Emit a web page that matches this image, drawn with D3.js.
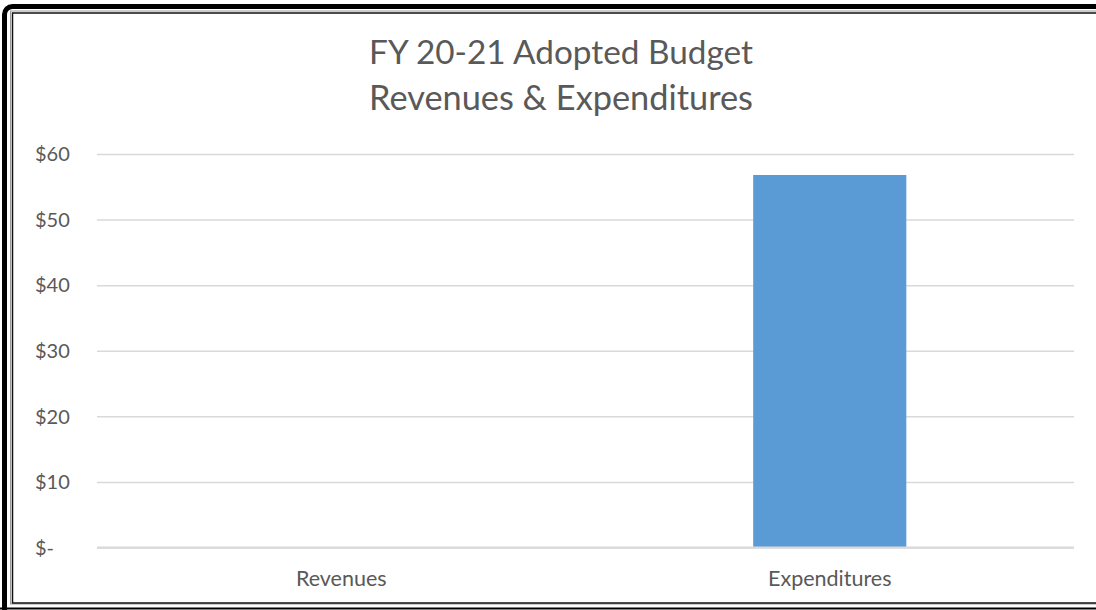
<!DOCTYPE html>
<html>
<head>
<meta charset="utf-8">
<script src="https://cdn.jsdelivr.net/npm/d3@7"></script>
<style>
  html, body { margin: 0; padding: 0; background: #fff; }
  svg { display: block; }
  text { font-family: Lato, "Open Sans", sans-serif; fill: #595959; }
</style>
</head>
<body>
<svg id="chart" width="1096" height="610"></svg>
<script>
// Budget totals, in millions of dollars
const categories = ["Revenues", "Expenditures"];
const amounts = [0, 56.8];
const tickValues = [0, 10, 20, 30, 40, 50, 60];
const tickLabels = ["$-", "$10", "$20", "$30", "$40", "$50", "$60"];
const titleLines = ["FY 20-21 Adopted Budget", "Revenues & Expenditures"];

const W = 1096, H = 610;
const svg = d3.select("#chart");

// Frame: heavy black outline with a double inner rule
svg.append("rect")
  .attr("x", 4.5).attr("y", 6.5)
  .attr("width", W + 20).attr("height", H + 20)
  .attr("rx", 8)
  .attr("fill", "none").attr("stroke", "#000").attr("stroke-width", 5);
svg.append("rect")
  .attr("x", 10.5).attr("y", 11)
  .attr("width", W + 20).attr("height", 593)
  .attr("fill", "none").attr("stroke", "#9a9a9a").attr("stroke-width", 1);
svg.append("rect")
  .attr("x", 12.5).attr("y", 13)
  .attr("width", W + 20).attr("height", 590)
  .attr("fill", "none").attr("stroke", "#111").attr("stroke-width", 1.5);
svg.append("line")
  .attr("x1", 0).attr("x2", W).attr("y1", 608.5).attr("y2", 608.5)
  .attr("stroke", "#000").attr("stroke-width", 2);

const margin = { left: 97, right: 22, top: 154, bottom: 62.5 };
const plotW = W - margin.left - margin.right;

const x = d3.scaleBand()
  .domain(categories)
  .range([margin.left, W - margin.right])
  .padding(0);

const y = d3.scaleLinear()
  .domain([0, 60])
  .range([H - margin.bottom, margin.top]);

// Horizontal gridlines
const grid = svg.append("g")
  .attr("transform", `translate(${margin.left},0)`)
  .call(d3.axisLeft(y).tickValues(tickValues).tickSize(-plotW).tickFormat(""));
grid.select(".domain").remove();
grid.selectAll(".tick line").attr("stroke", "#d9d9d9").attr("stroke-width", 1.5);

// Y-axis labels ($ left aligned, accounting style)
const ylab = svg.append("g").attr("transform", "translate(35,0)")
  .call(d3.axisLeft(y).tickValues(tickValues).tickSize(0)
    .tickFormat((d, i) => tickLabels[i]));
ylab.select(".domain").remove();
ylab.selectAll(".tick text")
  .attr("text-anchor", "start").attr("x", 0).attr("dy", "0.34em")
  .style("font-size", "20px").style("fill", "#595959")
  .style("font-family", "Lato, 'Open Sans', sans-serif");

// Bars (gap width ≈ 219%)
const barW = x.bandwidth() / 3.19;
svg.append("g").selectAll("rect")
  .data(categories.map((c, i) => ({ c, v: amounts[i] })))
  .join("rect")
  .attr("x", d => x(d.c) + (x.bandwidth() - barW) / 2)
  .attr("width", barW)
  .attr("y", d => y(d.v))
  .attr("height", d => y(0) - y(d.v))
  .attr("fill", "#5b9bd5");

// Baseline
svg.append("line")
  .attr("x1", margin.left).attr("x2", W - margin.right)
  .attr("y1", y(0)).attr("y2", y(0))
  .attr("stroke", "#d9d9d9").attr("stroke-width", 2);

// Category labels
const xa = svg.append("g").attr("transform", `translate(0,${y(0)})`)
  .call(d3.axisBottom(x).tickSize(0));
xa.select(".domain").remove();
xa.selectAll(".tick text")
  .attr("y", 31).attr("dy", "0.34em")
  .style("font-size", "21.5px").style("fill", "#595959")
  .style("font-family", "Lato, 'Open Sans', sans-serif");

// Title, two centered lines sized to a fixed width
const title = svg.append("g");
const tl = title.selectAll("text").data(titleLines).join("text")
  .attr("x", 561).attr("y", (d, i) => 64 + i * 46)
  .attr("text-anchor", "middle")
  .style("font-size", "29px")
  .text(d => d);
tl.each(function() {
  const w = this.getComputedTextLength();
  const fs = 29 * 384 / w;
  d3.select(this).style("font-size", fs + "px");
});
</script>
</body>
</html>
